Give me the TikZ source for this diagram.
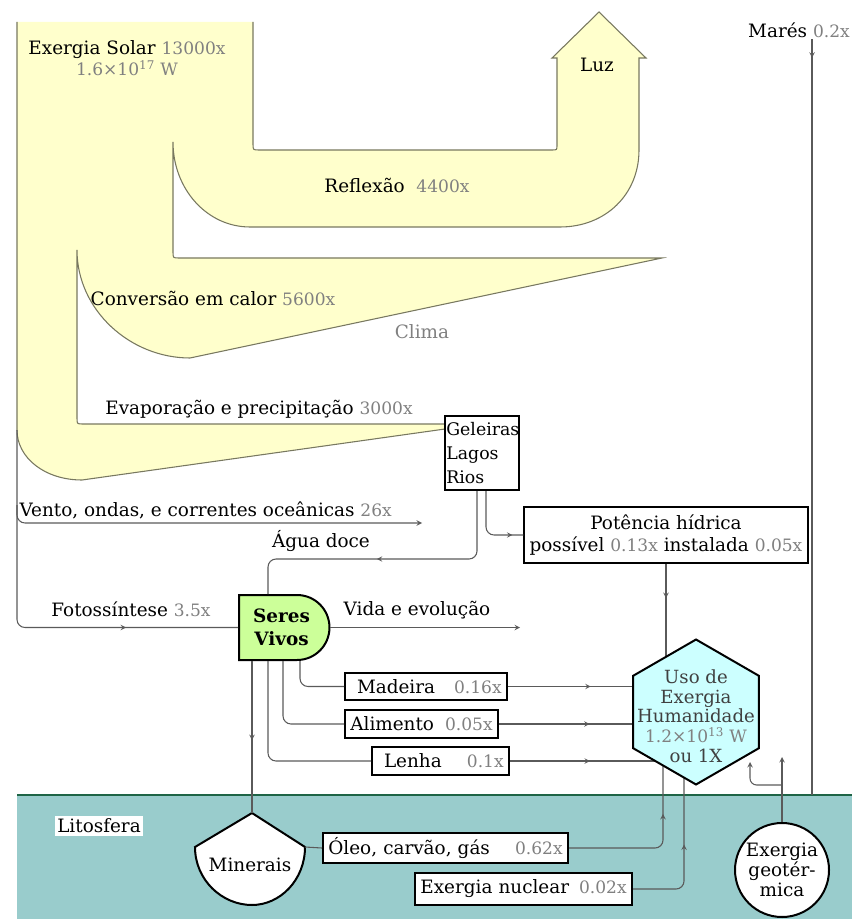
\documentclass[tikz,border=0pt]{standalone}
\usepackage{fontspec}
\setmainfont{DejaVu Serif}
\usetikzlibrary{shapes.geometric,shapes.misc,decorations.markings,calc}

\definecolor{sunfill}{RGB}{255,255,204}
\definecolor{sunline}{RGB}{120,120,96}
\definecolor{litofill}{RGB}{153,204,204}
\definecolor{litoline}{RGB}{30,100,70}
\definecolor{seresfill}{RGB}{204,255,153}
\definecolor{hexfill}{RGB}{204,255,255}
\definecolor{numgray}{RGB}{128,128,128}
\definecolor{wiregray}{RGB}{90,90,90}

\newcommand{\grayval}[1]{{\color{numgray}\fontsize{12.8}{15}\selectfont #1}}

\tikzset{
  lbl/.style={font=\fontsize{13.8}{16}\selectfont, inner sep=1pt},
  box/.style={draw=black, line width=1.5pt, fill=white, font=\fontsize{13.8}{16}\selectfont, inner xsep=4pt, inner ysep=1pt},
  wire/.style={draw=wiregray, line width=0.8pt},
  arr/.style={postaction={decorate,decoration={markings,mark=at position #1 with {\arrow{stealth}}}}},
}

\begin{document}
\begin{tikzpicture}[x=0.75pt,y=-0.75pt,>=stealth]
\useasboundingbox (0,0) rectangle (852,919);
\fill[litofill] (17,795) rectangle (852,919);
\draw[litoline,line width=1.6pt] (17,795) -- (852,795);

\filldraw[fill=sunfill,draw=sunline,line width=0.8pt]
  (253,22) -- (253,144) .. controls (253,150) .. (259,150) -- (552,150) .. controls (557,150) .. (557,145)
  -- (557,58) -- (552,58) -- (599,12) -- (646,58) -- (639,58) -- (639,150)
  .. controls (639,195) and (605,227) .. (560,227) -- (250,227)
  .. controls (207,227) and (173,189) .. (173,142)
  -- (173,252) .. controls (173,258) .. (179,258) -- (662,258) -- (190,358)
  .. controls (130,358) and (77,310) .. (77,250)
  -- (77,418) .. controls (77,424) .. (83,424) -- (445,424) -- (445,429) -- (82,480)
  .. controls (45,480) and (17,458) .. (17,430) -- (17,22);
\coordinate (trunkfoot) at (17,430);
\coordinate (ventostart) at (17,505);
\coordinate (ventoend) at (422,523);
\coordinate (vidaend) at (520,627.5);
\coordinate (maresfoot) at (812,795);
\coordinate (hexc) at (696,712);
\coordinate (geotip) at (782,757);
\coordinate (geotip2) at (750,762);

\node[lbl, align=center] (solar) at (127,58) {Exergia Solar \grayval{13000x}\\ \grayval{1.6×10\textsuperscript{17} W}};
\node[lbl] (luz) at (597,65) {Luz};
\node[lbl] (reflexao) at (397,185) {Reflexão~~\grayval{4400x}};
\node[lbl] (conversao) at (213,298) {Conversão em calor \grayval{5600x}};
\node[lbl, text=numgray] (clima) at (422,332) {Clima};
\node[lbl] (evap) at (259,409) {Evaporação e precipitação \grayval{3000x}};
\node[lbl, anchor=west] (vento) at (18,510) {Vento, ondas, e correntes oceânicas \grayval{26x}};
\node[lbl] (agua) at (321,541) {Água doce};
\node[lbl] (mares) at (799,30) {Marés \grayval{0.2x}};
\node[lbl] (fotos) at (131,609) {Fotossíntese \grayval{3.5x}};
\node[lbl] (vida) at (417,610) {Vida e evolução};
\node[lbl, fill=white, inner sep=2pt] (lito) at (99,826) {Litosfera};

\node[box, align=left, text width=53.5pt, inner xsep=1pt, minimum height=55.5pt, font=\fontsize{13}{18}\selectfont] (geleiras) at (482,453) {Geleiras\\Lagos\\Rios};
\node[box, align=center, minimum width=211.5pt, minimum height=42pt] (potencia) at (666,535) {Potência hídrica\\possível \grayval{0.13x} instalada \grayval{0.05x}};
\node[rounded rectangle, rounded rectangle left arc=none, draw=black, line width=1.5pt, fill=seresfill,
  minimum width=69.75pt, minimum height=48.75pt, inner sep=1pt, align=center, font=\bfseries\fontsize{13.8}{17}\selectfont] (seres) at (281.5,627.5) {Seres\\Vivos};
\node[box, minimum height=20.25pt, text width=113.5pt] (madeira) at (426,686.5) {\hspace*{5pt}Madeira\hfill\grayval{0.16x}};
\node[box, minimum height=21pt, text width=106.75pt] (alimento) at (421.5,724) {Alimento\hfill\grayval{0.05x}};
\node[box, minimum height=21pt, text width=94.75pt] (lenha) at (440.5,761) {\hspace*{5pt}Lenha\hfill\grayval{0.1x}};
\node[box, minimum height=22.5pt, text width=175.75pt] (oleo) at (445.5,848) {Óleo, carvão, gás\hfill\grayval{0.62x}};
\node[box, minimum height=24pt, text width=154.75pt] (nuclear) at (523.5,889) {Exergia nuclear\hfill\grayval{0.02x}};
\node[circle, draw=black, line width=1.5pt, fill=white, minimum size=70.5pt, inner sep=0pt, align=center,
  font=\fontsize{13.8}{15}\selectfont] (geo) at (782,870) {Exergia\\geotér-\\mica};

\draw[line width=1.5pt, fill=white] (252,813) coordinate (mintop) -- (305,847) coordinate (minright)
  .. controls (305,880) and (280,905) .. (252,905) .. controls (222,905) and (195,880) .. (195,847) -- cycle;
\node[lbl] (minerais) at (250,865) {Minerais};

\draw[wire, arr=0.73, rounded corners=6] (trunkfoot) |- (seres.west);
\draw[wire, ->, rounded corners=6] (ventostart) |- (ventoend);
\draw[wire, arr=0.54, rounded corners=6] ($(geleiras.south)+(-5,0)$) -- ++(0,68) -| ($(seres.north)+(-13.5,0)$);
\draw[wire, arr=0.86, rounded corners=6] ($(geleiras.south)+(4,0)$) |- (potencia.west);
\draw[wire, arr=0.23] (potencia.south) -- (potencia.south |- hexc);
\draw[wire, arr=14pt] (mares.south -| maresfoot) -- (maresfoot);
\draw[wire, ->] (seres.east) -- (vidaend);
\draw[wire, rounded corners=6] ($(seres.south)+(18.5,0)$) |- (madeira.west);
\draw[wire, rounded corners=6] ($(seres.south)+(1.5,0)$) |- (alimento.west);
\draw[wire, rounded corners=6] ($(seres.south)+(-13.5,0)$) |- (lenha.west);
\draw[wire, arr=0.52] ($(seres.south)+(-29.5,0)$) -- (mintop);
\draw[wire, arr=0.44] (madeira.east) -- (madeira.east -| hexc);
\draw[wire, arr=0.46] (alimento.east) -- (alimento.east -| hexc);
\draw[wire, arr=0.43] (lenha.east) -- (lenha.east -| hexc);
\draw[wire] (minright) -- (oleo.west);
\draw[wire, arr=0.55, rounded corners=6] (oleo.east) -| ($(hexc)+(-33,0)$);
\draw[wire, arr=0.41, rounded corners=6] (nuclear.east) -| ($(hexc)+(-12,0)$);
\draw[wire, ->] (geo.north) -- (geotip);
\draw[wire, ->, rounded corners=5] ($(geo.north)+(0,-37)$) -| (geotip2);

\node[regular polygon, regular polygon sides=6, shape border rotate=30, draw=black, line width=1.5pt, fill=hexfill,
  minimum size=108.75pt, inner sep=0pt] (hex) at (hexc) {};
\node[align=center, inner sep=0pt, text=black!75, font=\fontsize{13.6}{14.8}\selectfont] (hextext) at ($(hexc)+(0,4)$)
  {Uso de\\Exergia\\Humanidade\\\grayval{1.2×10\textsuperscript{13} W}\\ou 1X};
\end{tikzpicture}
\end{document}
